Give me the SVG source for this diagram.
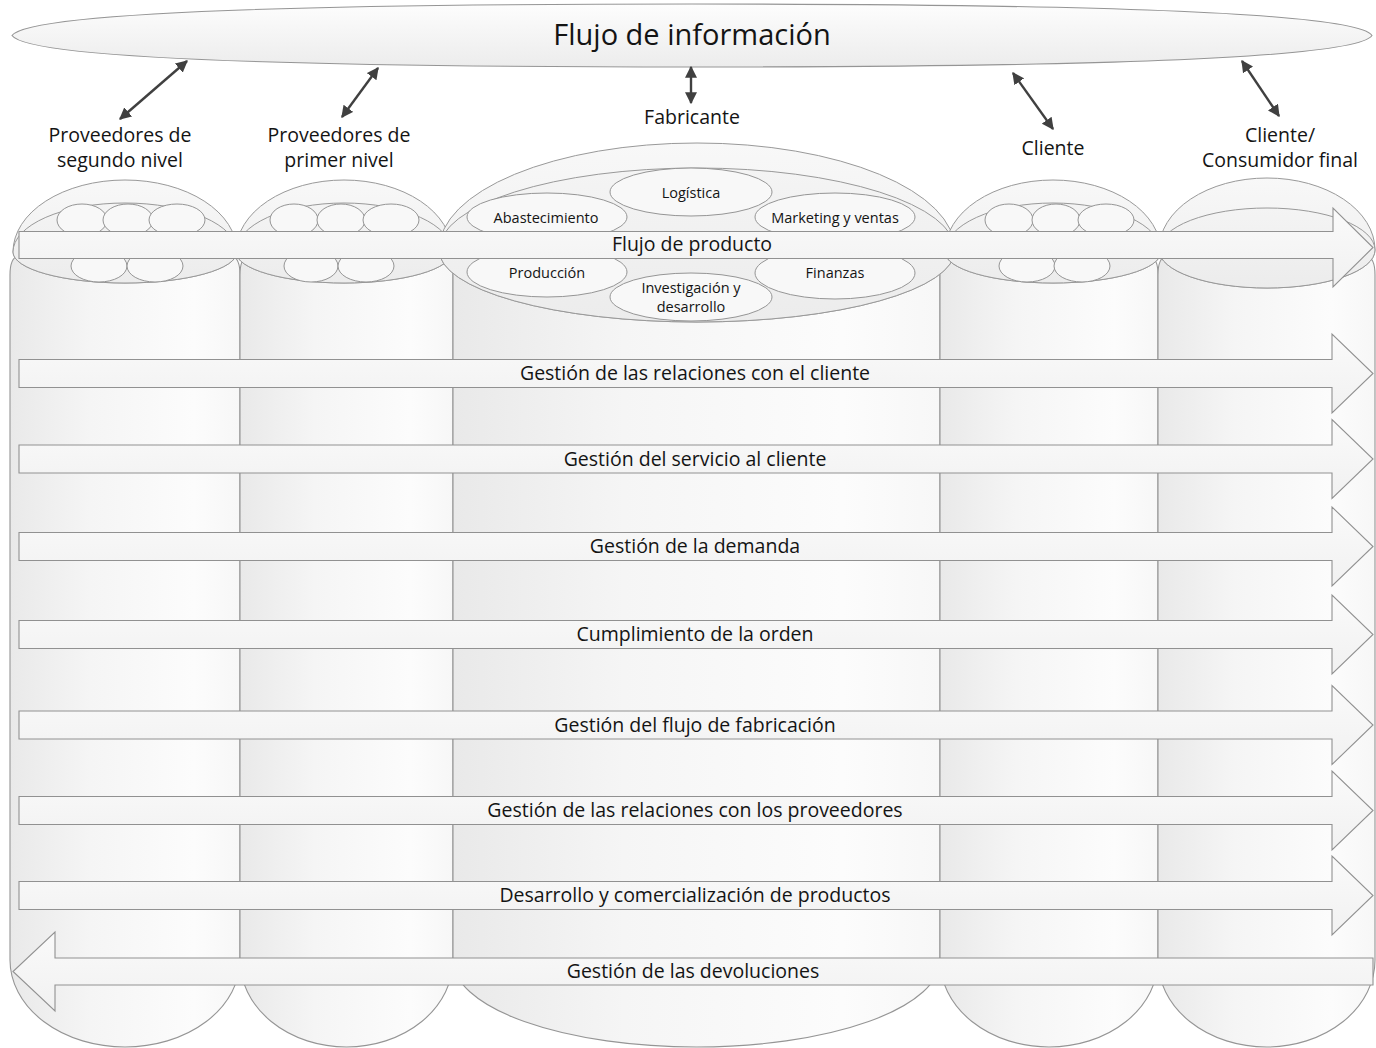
<svg xmlns="http://www.w3.org/2000/svg" width="1376" height="1048" viewBox="0 0 1376 1048">
  <defs>
    <linearGradient id="gBody" x1="0" y1="0" x2="1" y2="0">
      <stop offset="0" stop-color="#e9e9e9"/>
      <stop offset="0.35" stop-color="#f5f5f5"/>
      <stop offset="0.8" stop-color="#fcfcfc"/>
      <stop offset="1" stop-color="#f7f7f7"/>
    </linearGradient>
    <linearGradient id="gCap" x1="0" y1="0" x2="0" y2="1">
      <stop offset="0" stop-color="#f8f8f8"/>
      <stop offset="1" stop-color="#ededed"/>
    </linearGradient>
    <linearGradient id="gInner" x1="0" y1="0" x2="0" y2="1">
      <stop offset="0" stop-color="#f4f4f4"/>
      <stop offset="1" stop-color="#ececec"/>
    </linearGradient>
    <linearGradient id="gArrow" x1="0" y1="0" x2="0" y2="1">
      <stop offset="0" stop-color="#fafafa"/>
      <stop offset="1" stop-color="#f1f1f1"/>
    </linearGradient>
    <linearGradient id="gInfo" x1="0" y1="0" x2="0" y2="1">
      <stop offset="0" stop-color="#fdfdfd"/>
      <stop offset="1" stop-color="#ececec"/>
    </linearGradient>
    <marker id="tip" viewBox="0 0 10 10" refX="9" refY="5" markerWidth="5" markerHeight="5" orient="auto-start-reverse">
      <path d="M0,0 L10,5 L0,10 Z" fill="#404040"/>
    </marker>
    <style>
      .body { fill: url(#gBody); stroke: #959595; stroke-width: 1.1; }
      .cap { fill: url(#gCap); stroke: #999999; stroke-width: 1; }
      .inner { fill: url(#gInner); stroke: #999999; stroke-width: 1; }
      .sub { fill: #f8f8f8; stroke: #959595; stroke-width: 1; }
      .arrow { fill: url(#gArrow); stroke: #919191; stroke-width: 1.1; }
      .link { stroke: #404040; stroke-width: 2.4; fill: none; marker-start: url(#tip); marker-end: url(#tip); }
      text { font-family: "Open Sans", "Liberation Sans", sans-serif; fill: #141414; text-anchor: middle; }
      .lbl { font-size: 19.5px; }
      .small { font-size: 14.5px; }
      .title { font-size: 29px; }
    </style>
  </defs>

  <rect width="1376" height="1048" fill="#ffffff"/>

  <!-- information flow band -->
  <g id="flujo-informacion">
    <path d="M12,35.5 C24,18 180,4 692,4 C1204,4 1360,18 1372,35.5 C1360,53 1204,67 692,67 C180,67 24,53 12,35.5 Z" fill="url(#gInfo)" stroke="#959595" stroke-width="1.1"/>
    <text class="title" x="692" y="45">Flujo de información</text>
  </g>

  <!-- information links to each tier -->
  <g id="connectors">
    <line class="link" x1="187" y1="61" x2="120" y2="119"/>
    <line class="link" x1="378" y1="68" x2="342" y2="117"/>
    <line class="link" x1="691" y1="67" x2="691" y2="103"/>
    <line class="link" x1="1013" y1="73" x2="1053" y2="129"/>
    <line class="link" x1="1242" y1="61" x2="1279" y2="116"/>
  </g>

  <!-- column bodies -->
  <g id="col-segundo-nivel-body">
    <path class="body" d="M10,275 Q10,258 18,256 L232,256 Q240,258 240,275 L240,960 A115,87 0 0 1 10,960 Z"/>
  </g>
  <g id="col-primer-nivel-body">
    <path class="body" d="M240,275 Q240,258 248,256 L445,256 Q453,258 453,275 L453,960 A106.5,87 0 0 1 240,960 Z"/>
  </g>
  <g id="col-fabricante-body">
    <path class="body" d="M453,275 Q453,258 461,256 L932,256 Q940,258 940,275 L940,960 A243.5,87 0 0 1 453,960 Z"/>
  </g>
  <g id="col-cliente-body">
    <path class="body" d="M940,275 Q940,258 948,256 L1150,256 Q1158,258 1158,275 L1158,960 A109,87 0 0 1 940,960 Z"/>
  </g>
  <g id="col-consumidor-body">
    <path class="body" d="M1158,275 Q1158,258 1166,256 L1367,256 Q1375,258 1375,275 L1375,960 A108.5,87 0 0 1 1158,960 Z"/>
  </g>

  <!-- tier: second-level suppliers -->
  <g id="proveedores-segundo-nivel">
    <text class="lbl" x="120" y="142">Proveedores de</text>
    <text class="lbl" x="120" y="167">segundo nivel</text>
    <path class="cap" d="M13,252 A112,72 0 0 1 237,252 A112,31 0 0 1 13,252 Z"/>
    <path class="inner" d="M13,252 A112,49 0 0 1 237,252 A112,31 0 0 1 13,252 Z"/>
    <ellipse class="sub" cx="82" cy="220" rx="25" ry="16"/>
    <ellipse class="sub" cx="128" cy="220" rx="25" ry="16"/>
    <ellipse class="sub" cx="177" cy="220" rx="28" ry="16"/>
    <ellipse class="sub" cx="99" cy="266" rx="28" ry="16"/>
    <ellipse class="sub" cx="155" cy="266" rx="28" ry="16"/>
  </g>

  <!-- tier: first-level suppliers -->
  <g id="proveedores-primer-nivel">
    <text class="lbl" x="339" y="142">Proveedores de</text>
    <text class="lbl" x="339" y="167">primer nivel</text>
    <path class="cap" d="M236,252 A108,72 0 0 1 452,252 A108,31 0 0 1 236,252 Z"/>
    <path class="inner" d="M236,252 A108,49 0 0 1 452,252 A108,31 0 0 1 236,252 Z"/>
    <ellipse class="sub" cx="294" cy="220" rx="24" ry="16"/>
    <ellipse class="sub" cx="341" cy="220" rx="24" ry="16"/>
    <ellipse class="sub" cx="391" cy="220" rx="28" ry="16"/>
    <ellipse class="sub" cx="311" cy="266" rx="27" ry="16"/>
    <ellipse class="sub" cx="366" cy="266" rx="28" ry="16"/>
  </g>

  <!-- tier: manufacturer with its functional areas -->
  <g id="fabricante">
    <text class="lbl" x="692" y="124">Fabricante</text>
    <path class="cap" d="M439,250 A258,107 0 0 1 955,250 A258,72 0 0 1 439,250 Z"/>
    <path class="inner" d="M439,250 A258,82 0 0 1 955,250 A258,72 0 0 1 439,250 Z"/>
    <g id="logistica">
      <ellipse class="sub" cx="691" cy="192" rx="81" ry="24"/>
      <text class="small" x="691" y="198">Logística</text>
    </g>
    <g id="abastecimiento">
      <ellipse class="sub" cx="547" cy="217" rx="80" ry="24"/>
      <text class="small" x="546" y="223">Abastecimiento</text>
    </g>
    <g id="marketing-ventas">
      <ellipse class="sub" cx="835" cy="217" rx="80" ry="24"/>
      <text class="small" x="835" y="223">Marketing y ventas</text>
    </g>
    <g id="produccion">
      <ellipse class="sub" cx="547" cy="272" rx="80" ry="25"/>
      <text class="small" x="547" y="278">Producción</text>
    </g>
    <g id="finanzas">
      <ellipse class="sub" cx="835" cy="273" rx="80" ry="26"/>
      <text class="small" x="835" y="278">Finanzas</text>
    </g>
    <g id="investigacion-desarrollo">
      <ellipse class="sub" cx="691" cy="297" rx="81" ry="24"/>
      <text class="small" x="691" y="293">Investigación y</text>
      <text class="small" x="691" y="312">desarrollo</text>
    </g>
  </g>

  <!-- tier: customer -->
  <g id="cliente">
    <text class="lbl" x="1053" y="155">Cliente</text>
    <path class="cap" d="M945,252 A108,72 0 0 1 1161,252 A108,31 0 0 1 945,252 Z"/>
    <path class="inner" d="M945,252 A108,49 0 0 1 1161,252 A108,31 0 0 1 945,252 Z"/>
    <ellipse class="sub" cx="1009" cy="220" rx="24" ry="16"/>
    <ellipse class="sub" cx="1056" cy="220" rx="24" ry="16"/>
    <ellipse class="sub" cx="1106" cy="220" rx="28" ry="16"/>
    <ellipse class="sub" cx="1027" cy="266" rx="28" ry="16"/>
    <ellipse class="sub" cx="1082" cy="266" rx="28" ry="16"/>
  </g>

  <!-- tier: end consumer -->
  <g id="consumidor-final">
    <text class="lbl" x="1280" y="142">Cliente/</text>
    <text class="lbl" x="1280" y="167">Consumidor final</text>
    <path class="cap" d="M1159,250 A108,72 0 0 1 1375,250 A108,38 0 0 1 1159,250 Z"/>
    <path class="inner" d="M1159,250 A108,42 0 0 1 1375,250 A108,38 0 0 1 1159,250 Z"/>
  </g>

  <!-- product flow -->
  <g id="flujo-producto">
    <path class="arrow" d="M19,231.5 L1333,231.5 L1333,208 L1373,247.5 L1333,287 L1333,258.5 L19,258.5 Z"/>
    <text class="lbl" x="692" y="251">Flujo de producto</text>
  </g>

  <!-- business processes -->
  <g id="relaciones-cliente">
    <path class="arrow" d="M19,359.5 L1332,359.5 L1332,334 L1373,373.5 L1332,413 L1332,387.5 L19,387.5 Z"/>
    <text class="lbl" x="695" y="380">Gestión de las relaciones con el cliente</text>
  </g>
  <g id="servicio-cliente">
    <path class="arrow" d="M19,445 L1332,445 L1332,419.5 L1373,459 L1332,498.5 L1332,473 L19,473 Z"/>
    <text class="lbl" x="695" y="465.5">Gestión del servicio al cliente</text>
  </g>
  <g id="gestion-demanda">
    <path class="arrow" d="M19,532.5 L1332,532.5 L1332,507 L1373,546.5 L1332,586 L1332,560.5 L19,560.5 Z"/>
    <text class="lbl" x="695" y="553">Gestión de la demanda</text>
  </g>
  <g id="cumplimiento-orden">
    <path class="arrow" d="M19,620.5 L1332,620.5 L1332,595 L1373,634.5 L1332,674 L1332,648.5 L19,648.5 Z"/>
    <text class="lbl" x="695" y="641">Cumplimiento de la orden</text>
  </g>
  <g id="flujo-fabricacion">
    <path class="arrow" d="M19,711 L1332,711 L1332,685.5 L1373,725 L1332,764.5 L1332,739 L19,739 Z"/>
    <text class="lbl" x="695" y="731.5">Gestión del flujo de fabricación</text>
  </g>
  <g id="relaciones-proveedores">
    <path class="arrow" d="M19,796.5 L1332,796.5 L1332,771 L1373,810.5 L1332,850 L1332,824.5 L19,824.5 Z"/>
    <text class="lbl" x="695" y="817">Gestión de las relaciones con los proveedores</text>
  </g>
  <g id="desarrollo-productos">
    <path class="arrow" d="M19,881.5 L1332,881.5 L1332,856 L1373,895.5 L1332,935 L1332,909.5 L19,909.5 Z"/>
    <text class="lbl" x="695" y="902">Desarrollo y comercialización de productos</text>
  </g>
  <g id="devoluciones">
    <path class="arrow" d="M1373,958 L55,958 L55,932 L13,971.5 L55,1011 L55,985 L1373,985 Z"/>
    <text class="lbl" x="693" y="978">Gestión de las devoluciones</text>
  </g>
</svg>
